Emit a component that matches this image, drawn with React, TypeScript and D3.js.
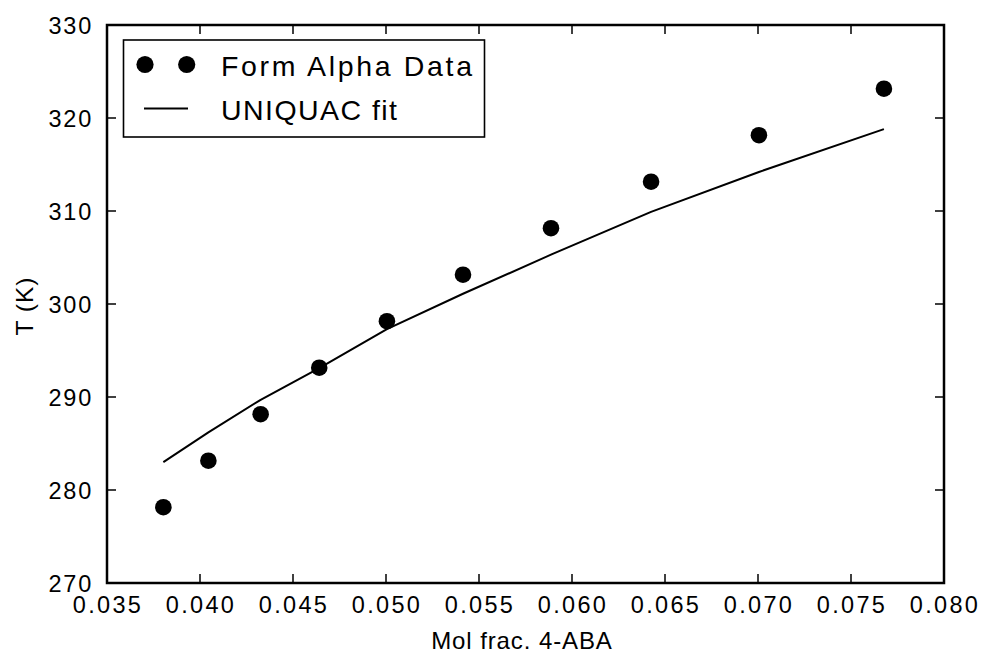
import React from "react";
import * as d3 from "d3";

// Solubility data for form alpha of 4-aminobenzoic acid
const moleFraction = [0.03803, 0.04045, 0.04326, 0.04641, 0.05005, 0.05414, 0.05887, 0.06425, 0.07005, 0.07677];
const temperatureK = [278.15, 283.15, 288.15, 293.15, 298.15, 303.15, 308.15, 313.15, 318.15, 323.15];
// UNIQUAC model evaluated at the measured compositions
const uniquacT = [283.0, 286.2, 289.7, 293.1, 297.3, 301.1, 305.3, 309.9, 314.2, 318.8];

const xTicks = [0.035, 0.04, 0.045, 0.05, 0.055, 0.06, 0.065, 0.07, 0.075, 0.08];
const yTicks = [270, 280, 290, 300, 310, 320, 330];

const seriesLabels = ["Form Alpha Data", "UNIQUAC fit"];

const W = 983;
const H = 653;
const M = { left: 107, right: 944, top: 25, bottom: 583 };
const FONT = "'Liberation Sans', Arial, Helvetica, sans-serif";

export default function App() {
  const x = d3.scaleLinear().domain([0.035, 0.08]).range([M.left, M.right]);
  const y = d3.scaleLinear().domain([270, 330]).range([M.bottom, M.top]);

  const fitPath = d3
    .line<number>()
    .x((_, i) => x(moleFraction[i]))
    .y((d) => y(d))(uniquacT) as string;

  const tickLen = 9;

  return (
    <svg
      width={W}
      height={H}
      style={{ position: "absolute", left: 0, top: 0, background: "#fff" }}
      fontFamily={FONT}
    >
      <rect x={0} y={0} width={W} height={H} fill="#fff" />

      {/* fit curve */}
      <path d={fitPath} fill="none" stroke="#000" strokeWidth={2} strokeLinejoin="round" />

      {/* measured points */}
      {moleFraction.map((m, i) => (
        <circle key={i} cx={x(m)} cy={y(temperatureK[i])} r={8.3} fill="#000" />
      ))}

      {/* x ticks (bottom and top, inward) */}
      {xTicks.map((t) => (
        <g key={"x" + t}>
          <line x1={x(t)} x2={x(t)} y1={M.bottom} y2={M.bottom - tickLen} stroke="#000" strokeWidth={1.5} />
          <line x1={x(t)} x2={x(t)} y1={M.top} y2={M.top + tickLen} stroke="#000" strokeWidth={1.5} />
          <text
            x={x(t) + 1}
            y={613}
            textAnchor="middle"
            fontSize={23.5}
            letterSpacing={2.3}
            fill="#000"
          >
            {d3.format(".3f")(t)}
          </text>
        </g>
      ))}

      {/* y ticks (left and right, inward) */}
      {yTicks.map((t) => (
        <g key={"y" + t}>
          <line x1={M.left} x2={M.left + tickLen} y1={y(t)} y2={y(t)} stroke="#000" strokeWidth={1.5} />
          <line x1={M.right} x2={M.right - tickLen} y1={y(t)} y2={y(t)} stroke="#000" strokeWidth={1.5} />
          <text
            x={93}
            y={y(t) + 8.5}
            textAnchor="end"
            fontSize={23.5}
            letterSpacing={1.8}
            fill="#000"
          >
            {t}
          </text>
        </g>
      ))}

      {/* frame */}
      <rect
        x={M.left}
        y={M.top}
        width={M.right - M.left}
        height={M.bottom - M.top}
        fill="none"
        stroke="#000"
        strokeWidth={2.5}
      />

      {/* axis titles */}
      <text x={522} y={649} textAnchor="middle" fontSize={24} letterSpacing={0.9} fill="#000">
        Mol frac. 4-ABA
      </text>
      <text
        transform={`translate(33, ${(M.top + M.bottom) / 2 + 2}) rotate(-90)`}
        textAnchor="middle"
        fontSize={24.5}
        letterSpacing={1}
        fill="#000"
      >
        T (K)
      </text>

      {/* legend */}
      <g>
        <rect x={123.5} y={40} width={361} height={97} fill="#fff" stroke="#000" strokeWidth={1.6} />
        <circle cx={145} cy={64.5} r={8.6} fill="#000" />
        <circle cx={186.7} cy={64.5} r={8.6} fill="#000" />
        <text x={221} y={76} fontSize={28.5} textLength={251} lengthAdjust="spacing" fill="#000">
          {seriesLabels[0]}
        </text>
        <line x1={144} x2={188} y1={108.5} y2={108.5} stroke="#000" strokeWidth={2} />
        <text x={221} y={120} fontSize={28.5} textLength={176} lengthAdjust="spacing" fill="#000">
          {seriesLabels[1]}
        </text>
      </g>
    </svg>
  );
}
